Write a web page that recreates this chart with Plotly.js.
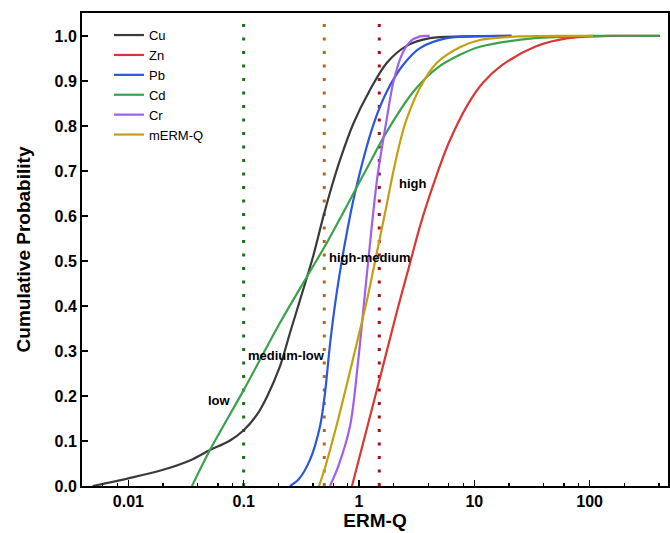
<!DOCTYPE html>
<html>
<head>
<meta charset="utf-8">
<script src="https://cdn.plot.ly/plotly-3.0.1.min.js"></script>
<style>html,body{margin:0;padding:0;background:#fff;}#chart{width:670px;height:533px;}</style>
</head>
<body>
<div id="chart"></div>
<script>
// Data (x = ERM-Q, y = cumulative probability)
const cuX = [0.0049, 0.01, 0.02, 0.035, 0.051, 0.075, 0.1, 0.13, 0.159, 0.206, 0.252, 0.308, 0.40, 0.49, 0.58, 0.684, 0.893, 1.245, 1.74, 2.59, 4.13, 8, 21];
const cuY = [0, 0.017, 0.036, 0.058, 0.08, 0.1, 0.124, 0.158, 0.198, 0.265, 0.34, 0.413, 0.51, 0.598, 0.665, 0.724, 0.805, 0.88, 0.94, 0.978, 0.995, 0.999, 1.0];

const znX = [0.87, 1.52, 2.12, 2.77, 3.38, 4.56, 6, 8.8, 12, 17.4, 33.6, 65, 150, 408];
const znY = [0, 0.24, 0.385, 0.495, 0.577, 0.68, 0.762, 0.848, 0.897, 0.935, 0.976, 0.995, 1.0, 1.0];

const pbX = [0.252, 0.30, 0.376, 0.459, 0.507, 0.562, 0.64, 0.756, 0.923, 1.33, 1.74, 2.42, 3.38, 5.76, 10, 21];
const pbY = [0, 0.015, 0.058, 0.132, 0.206, 0.317, 0.428, 0.54, 0.651, 0.802, 0.876, 0.936, 0.973, 0.995, 0.999, 1.0];

const cdX = [0.0356, 0.051, 0.1, 0.206, 0.363, 0.525, 1.09, 1.74, 2.96, 4.72, 7.5, 11.2, 33.6, 100, 400];
const cdY = [0, 0.08, 0.213, 0.362, 0.47, 0.54, 0.691, 0.787, 0.876, 0.928, 0.958, 0.976, 0.995, 1.0, 1.0];

const crX = [0.56, 0.66, 0.835, 0.986, 1.127, 1.29, 1.45, 1.74, 1.99, 2.35, 2.77, 3.38, 4.1];
const crY = [0, 0.043, 0.132, 0.28, 0.428, 0.576, 0.69, 0.815, 0.898, 0.958, 0.987, 0.999, 1.0];

const mqX = [0.45, 0.5, 0.64, 0.893, 1.166, 1.42, 1.74, 1.99, 2.3, 2.59, 3.38, 4.72, 7.5, 11.2, 25, 107];
const mqY = [0, 0.035, 0.135, 0.285, 0.41, 0.515, 0.625, 0.70, 0.77, 0.815, 0.885, 0.94, 0.975, 0.991, 0.999, 1.0];

// Threshold lines
const thresholds = [0.1, 0.5, 1.5];
const thresholdColors = ['#1d6b1d', '#b8651e', '#a3121c'];
const thresholdTop = 1.03;

// Zone labels
const zoneLabels = ['low', 'medium-low', 'high-medium', 'high'];

const xTickVals = [0.01, 0.1, 1, 10, 100];
const xTickText = ['0.01', '0.1', '1', '10', '100'];
const xMinorVals = [0.004, 0.006, 0.008, 0.02, 0.04, 0.06, 0.08, 0.2, 0.4, 0.6, 0.8, 2, 4, 6, 8, 20, 40, 60, 80, 200, 400];

const font = 'Arial, "Liberation Sans", sans-serif';

const traces = [];
thresholds.forEach((t, i) => {
  traces.push({
    x: [t, t], y: [0, thresholdTop], mode: 'lines', showlegend: false, hoverinfo: 'skip',
    line: {color: thresholdColors[i], width: 3, dash: '3px,10.5px'}
  });
});

const series = [
  {name: 'Cu', x: cuX, y: cuY, color: '#3a3a3a'},
  {name: 'Zn', x: znX, y: znY, color: '#d93636'},
  {name: 'Pb', x: pbX, y: pbY, color: '#2a56e0'},
  {name: 'Cd', x: cdX, y: cdY, color: '#3ba24c'},
  {name: 'Cr', x: crX, y: crY, color: '#a05ef0'},
  {name: 'mERM-Q', x: mqX, y: mqY, color: '#c4a010'}
];
series.forEach(s => {
  traces.push({
    x: s.x, y: s.y, name: s.name, mode: 'lines',
    line: {color: s.color, width: 2.2, shape: 'spline', smoothing: 0.9}
  });
});

const layout = {
  width: 670, height: 533,
  margin: {l: 82, r: 2, t: 13, b: 47},
  paper_bgcolor: '#fff', plot_bgcolor: '#fff',
  font: {family: font, color: '#000'},
  showlegend: true,
  legend: {
    x: 0.046, y: 0.985, xanchor: 'left', yanchor: 'top',
    bgcolor: 'rgba(0,0,0,0)', font: {family: font, size: 13, color: '#000'},
    tracegroupgap: 0, itemwidth: 30
  },
  xaxis: {
    type: 'log', range: [-2.402, 2.68],
    tickmode: 'array', tickvals: xTickVals, ticktext: xTickText,
    ticks: 'inside', ticklen: 6, tickwidth: 1.5, tickcolor: '#000',
    minor: {tickmode: 'array', tickvals: xMinorVals, ticks: 'inside', ticklen: 3, tickwidth: 1.2, tickcolor: '#000', showgrid: false},
    showline: true, linecolor: '#000', linewidth: 2, mirror: true,
    showgrid: false, zeroline: false,
    tickfont: {family: font, size: 16, color: '#000', weight: 'bold'},
    title: {text: '<b>ERM-Q</b>', font: {family: font, size: 19, color: '#000'}, standoff: 4}
  },
  yaxis: {
    range: [0, 1.051], tickmode: 'linear', tick0: 0, dtick: 0.1, tickformat: '.1f',
    ticks: 'inside', ticklen: 6, tickwidth: 1.5, tickcolor: '#000',
    showline: true, linecolor: '#000', linewidth: 2, mirror: true,
    showgrid: false, zeroline: false,
    tickfont: {family: font, size: 16, color: '#000', weight: 'bold'},
    title: {text: '<b>Cumulative Probability</b>', font: {family: font, size: 19, color: '#000'}, standoff: 19}
  },
  annotations: [
    {text: '<b>' + zoneLabels[0] + '</b>', xref: 'paper', yref: 'y', x: (233 - 82) / 586, y: 0.189, xanchor: 'right', yanchor: 'middle', showarrow: false, font: {family: font, size: 13, color: '#000'}},
    {text: '<b>' + zoneLabels[1] + '</b>', xref: 'paper', yref: 'y', x: (246 - 82) / 586, y: 0.289, xanchor: 'left', yanchor: 'middle', showarrow: false, font: {family: font, size: 13, color: '#000'}},
    {text: '<b>' + zoneLabels[2] + '</b>', xref: 'paper', yref: 'y', x: (327 - 82) / 586, y: 0.507, xanchor: 'left', yanchor: 'middle', showarrow: false, font: {family: font, size: 13, color: '#000'}},
    {text: '<b>' + zoneLabels[3] + '</b>', xref: 'paper', yref: 'y', x: (397 - 82) / 586, y: 0.673, xanchor: 'left', yanchor: 'middle', showarrow: false, font: {family: font, size: 13, color: '#000'}}
  ]
};

Plotly.newPlot('chart', traces, layout, {displayModeBar: false, staticPlot: true});
</script>
</body>
</html>
